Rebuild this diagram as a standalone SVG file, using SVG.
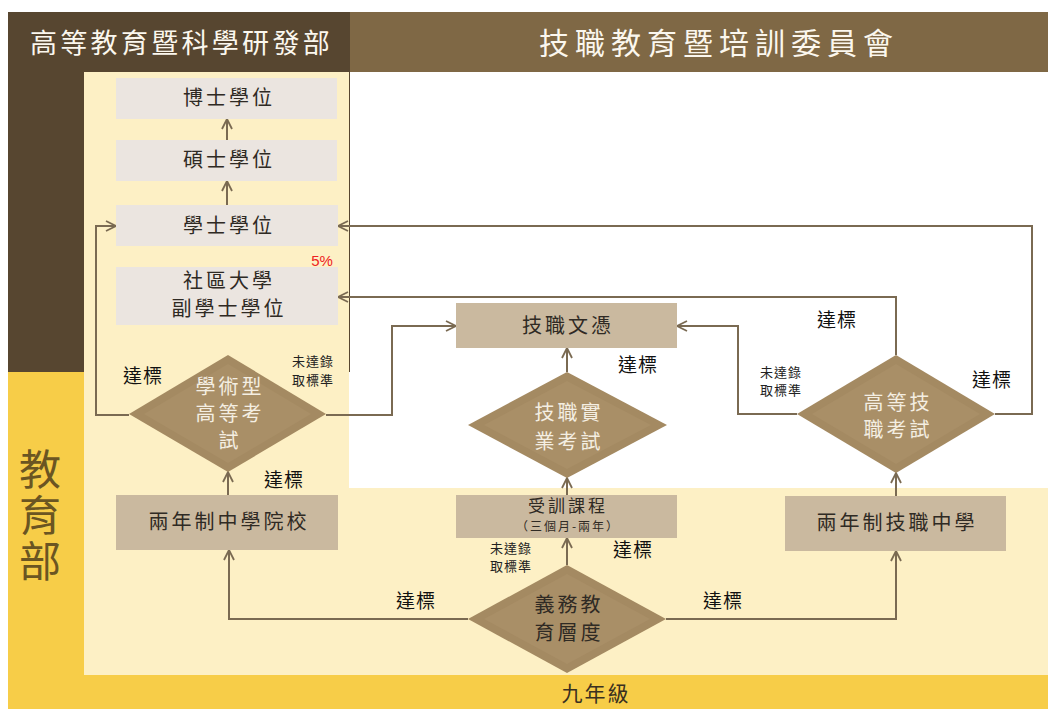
<svg xmlns="http://www.w3.org/2000/svg" width="1048" height="709" viewBox="0 0 1048 709">
<defs>
<style>
text{font-family:"Noto Sans CJK TC","Noto Sans CJK SC",sans-serif}
.hd{fill:#fbf7ee;font-size:27px;letter-spacing:3.3px}
.bx{fill:#2f2a24;font-size:20px;letter-spacing:3px;text-anchor:middle}
.dw{fill:#f4eee2;font-size:20px;letter-spacing:3px;text-anchor:middle}
.dd{fill:#2f2a24;font-size:20px;letter-spacing:3px;text-anchor:middle}
.lb{fill:#111;font-size:19px;letter-spacing:1px;text-anchor:middle}
.sm{fill:#222;font-size:13px;letter-spacing:1px;text-anchor:middle}
.light{fill:#ebe5e0}
.tan{fill:#cab99f}
.dia{fill:#a48a62}
.dia2{fill:#a98f67}
.ln{fill:none;stroke:#7a6a52;stroke-width:2;marker-end:url(#ar)}
</style>
<marker id="ar" viewBox="0 0 12 12" refX="11" refY="6" markerWidth="12" markerHeight="12" markerUnits="userSpaceOnUse" orient="auto">
<path d="M1,1 L11,6 L1,11" fill="none" stroke="#7a6a52" stroke-width="1.8"/>
</marker>
</defs>
<rect width="1048" height="709" fill="#ffffff"/>
<g id="background">
<rect x="8" y="12" width="342" height="360" fill="#574630"/>
<rect x="350" y="12" width="698" height="60" fill="#7f6845"/>
<rect x="8" y="372" width="76" height="337" fill="#f7cd48"/>
<rect x="8" y="675" width="1040" height="34" fill="#f7cd48"/>
<rect x="84" y="72" width="265" height="603" fill="#fdf0c5"/>
<rect x="349" y="488" width="699" height="187" fill="#fdf0c5"/>
<text class="hd" x="30" y="53">高等教育暨科學研發部</text>
<text class="hd" x="539" y="54" style="font-size:30px;letter-spacing:6px">技職教育暨培訓委員會</text>
<text x="40" y="448" style="fill:#6b5522;font-size:42px;letter-spacing:4px;writing-mode:tb;glyph-orientation-vertical:0">教育部</text>
<text x="596" y="701" style="fill:#3a3020;font-size:21px;letter-spacing:2px;text-anchor:middle">九年級</text>
</g>
<g id="connectors">
<path class="ln" d="M227,205 V181"/>
<path class="ln" d="M227,140 V119"/>
<path class="ln" d="M129,415 H96 V226 H116"/>
<path class="ln" d="M326,415 H392 V326 H456"/>
<path class="ln" d="M228,495 V472"/>
<path class="ln" d="M567,372 V348"/>
<path class="ln" d="M567,495 V478"/>
<path class="ln" d="M567,565 V538"/>
<path class="ln" d="M468,619 H229 V550"/>
<path class="ln" d="M666,619 H896 V551"/>
<path class="ln" d="M896,496 V473"/>
<path class="ln" d="M896,355 V297 H338"/>
<path class="ln" d="M797,414 H738 V326 H677"/>
<path class="ln" d="M995,414 H1032 V226 H338"/>
</g>
<g id="labels">
<text class="lb" x="143" y="383">達標</text>
<text class="sm" x="313" y="366">未達錄</text>
<text class="sm" x="313" y="385">取標準</text>
<text class="lb" x="284" y="487">達標</text>
<text class="lb" x="638" y="372">達標</text>
<text class="sm" x="511" y="553">未達錄</text>
<text class="sm" x="511" y="571">取標準</text>
<text class="lb" x="633" y="557">達標</text>
<text class="lb" x="416" y="608">達標</text>
<text class="lb" x="723" y="608">達標</text>
<text class="lb" x="837" y="327">達標</text>
<text class="sm" x="781" y="377">未達錄</text>
<text class="sm" x="781" y="395">取標準</text>
<text class="lb" x="992" y="387">達標</text>
<text x="322" y="266" style="fill:#ee2222;font-family:'Liberation Sans',sans-serif;font-size:15px;text-anchor:middle">5%</text>
</g>
<g id="n-doctor">
<rect class="light" x="116" y="78" width="221" height="41"/>
<text class="bx" x="229" y="105">博士學位</text>
</g>
<g id="n-master">
<rect class="light" x="116" y="140" width="221" height="41"/>
<text class="bx" x="229" y="167">碩士學位</text>
</g>
<g id="n-bachelor">
<rect class="light" x="116" y="205" width="222" height="41"/>
<text class="bx" x="229" y="233">學士學位</text>
</g>
<g id="n-associate">
<rect class="light" x="116" y="267" width="222" height="58"/>
<text class="bx" x="229" y="288">社區大學</text>
<text class="bx" x="229" y="316">副學士學位</text>
</g>
<g id="n-vocdiploma">
<rect class="tan" x="456" y="303" width="221" height="45"/>
<text class="bx" x="568" y="333">技職文憑</text>
</g>
<g id="n-college2">
<rect class="tan" x="116" y="495" width="222" height="55"/>
<text class="bx" x="229" y="529">兩年制中學院校</text>
</g>
<g id="n-training">
<rect class="tan" x="456" y="495" width="221" height="43"/>
<text class="bx" x="568" y="512" style="font-size:17px">受訓課程</text>
<text class="bx" x="568" y="531" style="font-size:12px;letter-spacing:2px">（三個月-兩年）</text>
</g>
<g id="n-vocschool2">
<rect class="tan" x="785" y="496" width="221" height="55"/>
<text class="bx" x="897" y="530">兩年制技職中學</text>
</g>
<g id="d-academic">
<polygon class="dia" points="228,355 326,414 228,472 129,414"/>
<polygon class="dia2" points="228,364 311,414 228,463 144,414"/>
<text class="dw" x="230" y="394">學術型</text>
<text class="dw" x="230" y="421">高等考</text>
<text class="dw" x="230" y="448">試</text>
</g>
<g id="d-vocpractical">
<polygon class="dia" points="567,372 667,425 567,478 468,425"/>
<polygon class="dia2" points="567,381 651,425 567,469 484,425"/>
<text class="dw" x="569" y="420">技職實</text>
<text class="dw" x="569" y="449">業考試</text>
</g>
<g id="d-highervoc">
<polygon class="dia" points="896,355 995,414 896,473 797,414"/>
<polygon class="dia2" points="896,364 980,414 896,464 812,414"/>
<text class="dw" x="898" y="410">高等技</text>
<text class="dw" x="898" y="437">職考試</text>
</g>
<g id="d-compulsory">
<polygon class="dia" points="567,565 666,619 567,673 468,619"/>
<polygon class="dia2" points="567,574 650,619 567,664 484,619"/>
<text class="dd" x="569" y="612">義務教</text>
<text class="dd" x="569" y="640">育層度</text>
</g>
</svg>
